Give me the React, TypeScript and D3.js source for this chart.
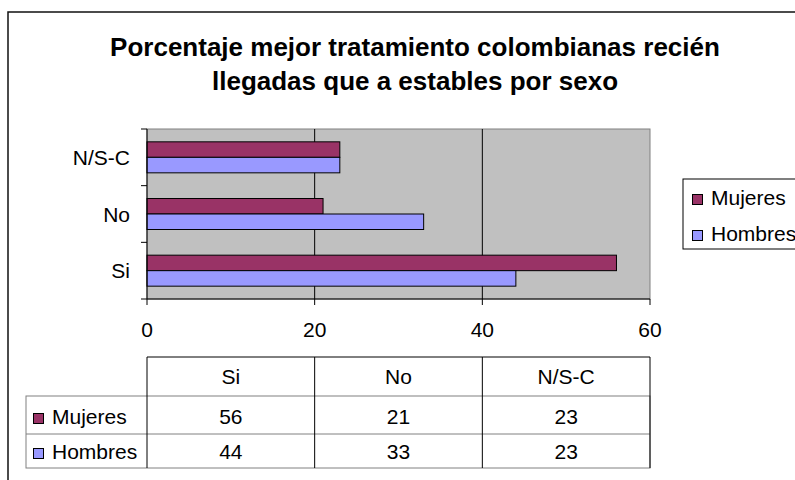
import React from "react";
import * as d3 from "d3";

const categories = ["Si", "No", "N/S-C"];
const seriesNames = ["Mujeres", "Hombres"];
const mujeres = [56, 21, 23];
const hombres = [44, 33, 23];
const xTicks = [0, 20, 40, 60];
const titleLines = ["Porcentaje mejor tratamiento colombianas recién", "llegadas que a estables por sexo"];
const colors = ["#993366", "#9999FF"];

const FONT = "'Liberation Sans', Arial, Helvetica, sans-serif";

export default function App() {
  const W = 795, H = 480;
  const plot = { x0: 147, x1: 650, y0: 129, y1: 299 };
  const x = d3.scaleLinear().domain([0, 60]).range([plot.x0, plot.x1]);
  const y = d3.scaleBand<string>().domain([...categories].reverse()).range([plot.y0, plot.y1]).padding(0);
  const groupH = 31;
  const inner = d3.scaleBand<string>().domain(seriesNames).range([0, groupH]).padding(0);
  const values = [mujeres, hombres];

  const tableLeft = 26, tableTop = 357, row1 = 396, row2 = 434, tableBottom = 468;
  const colEdges = xTicks.map((t) => x(t));
  const fs = 21;

  return (
    <svg width={W} height={H} style={{ position: "absolute", left: 0, top: 0, background: "#fff" }}>
      <rect x={8} y={12} width={850} height={520} fill="#fff" stroke="#111" strokeWidth={1.5} />
      {titleLines.map((t, i) => (
        <text key={i} x={415} y={56 + i * 33.5} textAnchor="middle" fontFamily={FONT} fontWeight="bold" fontSize={26} fill="#000">
          {t}
        </text>
      ))}
      <rect x={plot.x0} y={plot.y0} width={plot.x1 - plot.x0} height={plot.y1 - plot.y0} fill="#C0C0C0" stroke="#808080" strokeWidth={1} />
      {xTicks.slice(1, -1).map((t) => (
        <line key={t} x1={x(t)} x2={x(t)} y1={plot.y0} y2={plot.y1} stroke="#000" strokeWidth={1} />
      ))}
      {categories.map((c, ci) => {
        const bandC = (y(c) as number) + y.bandwidth() / 2;
        return seriesNames.map((s, si) => (
          <rect
            key={c + s}
            x={x(0)}
            y={bandC - groupH / 2 + (inner(s) as number)}
            width={x(values[si][ci]) - x(0)}
            height={inner.bandwidth()}
            fill={colors[si]}
            stroke="#000"
            strokeWidth={1}
          />
        ));
      })}
      <line x1={plot.x0} x2={plot.x0} y1={plot.y0} y2={plot.y1} stroke="#000" strokeWidth={1} />
      {[plot.y0, ...categories.slice().reverse().map((c) => (y(c) as number) + y.bandwidth())].map((v, i) => (
        <line key={i} x1={plot.x0 - 6} x2={plot.x0} y1={v} y2={v} stroke="#000" strokeWidth={1} />
      ))}
      {categories.map((c) => (
        <text key={c} x={130} y={(y(c) as number) + y.bandwidth() / 2 + 7.5} textAnchor="end" fontFamily={FONT} fontSize={fs} fill="#000">
          {c}
        </text>
      ))}
      <line x1={plot.x0} x2={plot.x1} y1={plot.y1} y2={plot.y1} stroke="#000" strokeWidth={1} />
      {xTicks.map((t) => (
        <g key={t}>
          <line x1={x(t)} x2={x(t)} y1={plot.y1} y2={plot.y1 + 6} stroke="#000" strokeWidth={1} />
          <text x={x(t)} y={337} textAnchor="middle" fontFamily={FONT} fontSize={fs} fill="#000">
            {t}
          </text>
        </g>
      ))}
      <rect x={683} y={179} width={150} height={70} fill="#fff" stroke="#000" strokeWidth={1} />
      {seriesNames.map((s, i) => (
        <g key={s}>
          <rect x={692.5} y={194.5 + i * 36} width={10} height={10} fill={colors[i]} stroke="#000" strokeWidth={1} />
          <text x={711} y={205 + i * 36} fontFamily={FONT} fontSize={fs} fill="#000">
            {s}
          </text>
        </g>
      ))}
      <rect x={tableLeft} y={row1} width={plot.x1 - tableLeft} height={tableBottom - row1} fill="none" stroke="#808080" strokeWidth={1} />
      <line x1={tableLeft} x2={plot.x1} y1={row2} y2={row2} stroke="#808080" strokeWidth={1} />
      <line x1={plot.x0} x2={plot.x1} y1={tableTop} y2={tableTop} stroke="#000" strokeWidth={1} />
      {colEdges.map((e, i) => (
        <line key={i} x1={e} x2={e} y1={tableTop} y2={tableBottom} stroke="#000" strokeWidth={1} />
      ))}
      {categories.map((c, ci) => {
        const cx = (colEdges[ci] + colEdges[ci + 1]) / 2;
        return (
          <g key={c}>
            <text x={cx} y={384} textAnchor="middle" fontFamily={FONT} fontSize={fs} fill="#000">{c}</text>
            <text x={cx} y={424} textAnchor="middle" fontFamily={FONT} fontSize={fs} fill="#000">{mujeres[ci]}</text>
            <text x={cx} y={459} textAnchor="middle" fontFamily={FONT} fontSize={fs} fill="#000">{hombres[ci]}</text>
          </g>
        );
      })}
      {seriesNames.map((s, i) => (
        <g key={s}>
          <rect x={33.5} y={[413.5, 448.5][i]} width={10} height={10} fill={colors[i]} stroke="#000" strokeWidth={1} />
          <text x={52} y={[424, 459][i]} fontFamily={FONT} fontSize={fs} fill="#000">{s}</text>
        </g>
      ))}
    </svg>
  );
}
